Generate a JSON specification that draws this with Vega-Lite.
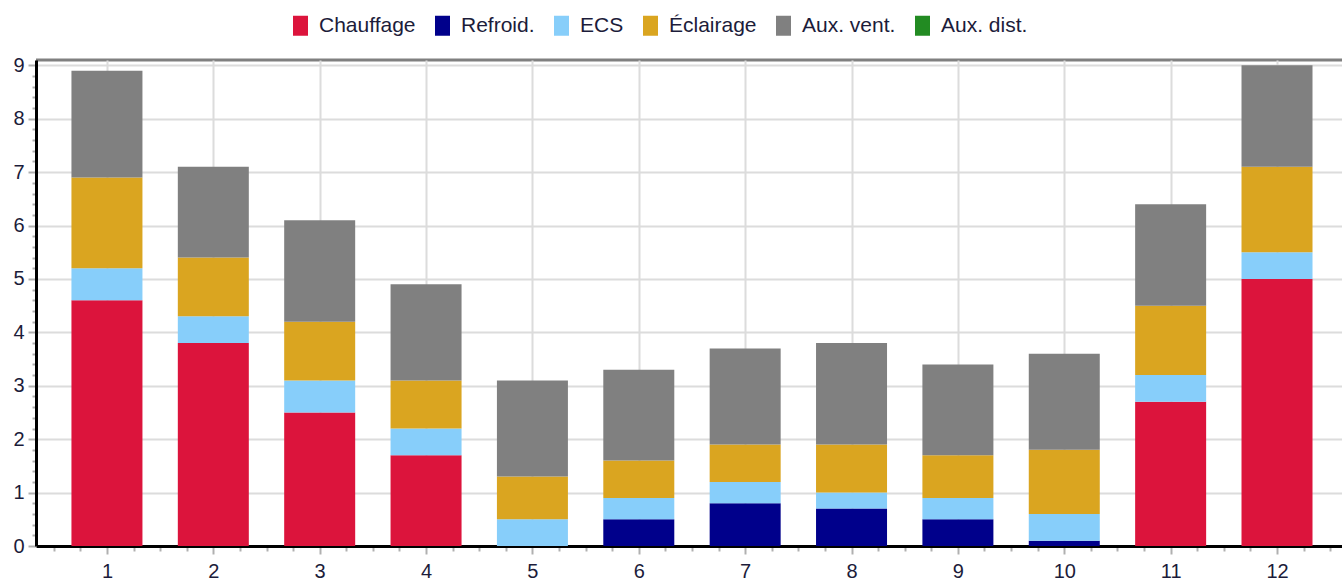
{
  "$schema": "https://vega.github.io/schema/vega-lite/v6.json",
  "autosize": {"type": "none"},
  "width": 1306,
  "height": 486,
  "padding": {"left": 36, "top": 60, "right": 0, "bottom": 37},
  "background": "white",
  "config": {
    "view": {"stroke": "#808080", "strokeWidth": 3, "strokeDash": [1306, 2400]},
    "font": "Liberation Sans"
  },
  "data": {
    "values": [
      {"mois": 1, "usage": "Chauffage", "valeur": 4.6},
      {"mois": 1, "usage": "ECS", "valeur": 0.6},
      {"mois": 1, "usage": "Éclairage", "valeur": 1.7},
      {"mois": 1, "usage": "Aux. vent.", "valeur": 2.0},
      {"mois": 2, "usage": "Chauffage", "valeur": 3.8},
      {"mois": 2, "usage": "ECS", "valeur": 0.5},
      {"mois": 2, "usage": "Éclairage", "valeur": 1.1},
      {"mois": 2, "usage": "Aux. vent.", "valeur": 1.7},
      {"mois": 3, "usage": "Chauffage", "valeur": 2.5},
      {"mois": 3, "usage": "ECS", "valeur": 0.6},
      {"mois": 3, "usage": "Éclairage", "valeur": 1.1},
      {"mois": 3, "usage": "Aux. vent.", "valeur": 1.9},
      {"mois": 4, "usage": "Chauffage", "valeur": 1.7},
      {"mois": 4, "usage": "ECS", "valeur": 0.5},
      {"mois": 4, "usage": "Éclairage", "valeur": 0.9},
      {"mois": 4, "usage": "Aux. vent.", "valeur": 1.8},
      {"mois": 5, "usage": "ECS", "valeur": 0.5},
      {"mois": 5, "usage": "Éclairage", "valeur": 0.8},
      {"mois": 5, "usage": "Aux. vent.", "valeur": 1.8},
      {"mois": 6, "usage": "Refroid.", "valeur": 0.5},
      {"mois": 6, "usage": "ECS", "valeur": 0.4},
      {"mois": 6, "usage": "Éclairage", "valeur": 0.7},
      {"mois": 6, "usage": "Aux. vent.", "valeur": 1.7},
      {"mois": 7, "usage": "Refroid.", "valeur": 0.8},
      {"mois": 7, "usage": "ECS", "valeur": 0.4},
      {"mois": 7, "usage": "Éclairage", "valeur": 0.7},
      {"mois": 7, "usage": "Aux. vent.", "valeur": 1.8},
      {"mois": 8, "usage": "Refroid.", "valeur": 0.7},
      {"mois": 8, "usage": "ECS", "valeur": 0.3},
      {"mois": 8, "usage": "Éclairage", "valeur": 0.9},
      {"mois": 8, "usage": "Aux. vent.", "valeur": 1.9},
      {"mois": 9, "usage": "Refroid.", "valeur": 0.5},
      {"mois": 9, "usage": "ECS", "valeur": 0.4},
      {"mois": 9, "usage": "Éclairage", "valeur": 0.8},
      {"mois": 9, "usage": "Aux. vent.", "valeur": 1.7},
      {"mois": 10, "usage": "Refroid.", "valeur": 0.1},
      {"mois": 10, "usage": "ECS", "valeur": 0.5},
      {"mois": 10, "usage": "Éclairage", "valeur": 1.2},
      {"mois": 10, "usage": "Aux. vent.", "valeur": 1.8},
      {"mois": 11, "usage": "Chauffage", "valeur": 2.7},
      {"mois": 11, "usage": "ECS", "valeur": 0.5},
      {"mois": 11, "usage": "Éclairage", "valeur": 1.3},
      {"mois": 11, "usage": "Aux. vent.", "valeur": 1.9},
      {"mois": 12, "usage": "Chauffage", "valeur": 5.0},
      {"mois": 12, "usage": "ECS", "valeur": 0.5},
      {"mois": 12, "usage": "Éclairage", "valeur": 1.6},
      {"mois": 12, "usage": "Aux. vent.", "valeur": 1.9}
    ]
  },
  "transform": [
    {"calculate": "indexof(['Chauffage','Refroid.','ECS','Éclairage','Aux. vent.','Aux. dist.'], datum.usage)", "as": "rang"}
  ],
  "mark": {"type": "bar", "size": 71},
  "encoding": {
    "x": {
      "field": "mois",
      "type": "quantitative",
      "scale": {"domain": [0.333, 12.611], "nice": false, "zero": false, "padding": 0},
      "axis": {
        "title": null,
        "values": [0.5,0.75,1,1.25,1.5,1.75,2,2.25,2.5,2.75,3,3.25,3.5,3.75,4,4.25,4.5,4.75,5,5.25,5.5,5.75,6,6.25,6.5,6.75,7,7.25,7.5,7.75,8,8.25,8.5,8.75,9,9.25,9.5,9.75,10,10.25,10.5,10.75,11,11.25,11.5,11.75,12,12.25,12.5],
        "labelExpr": "datum.value % 1 === 0 ? format(datum.value, 'd') : ''",
        "labelFontSize": 20,
        "labelColor": "#1c1c3a",
        "labelPadding": 7,
        "labelFlush": false,
        "labelOverlap": false,
        "domainColor": "#000000",
        "domainWidth": 3,
        "tickColor": "#b0b0b0",
        "tickWidth": 2,
        "tickSize": {"condition": {"test": "datum.value % 1 === 0", "value": 8}, "value": 5},
        "grid": true,
        "gridColor": "#dcdcdc",
        "gridWidth": 2,
        "gridOpacity": {"condition": {"test": "datum.value % 1 === 0", "value": 1}, "value": 0}
      }
    },
    "y": {
      "field": "valeur",
      "type": "quantitative",
      "aggregate": "sum",
      "stack": "zero",
      "scale": {"domain": [0, 9.1], "nice": false},
      "axis": {
        "title": null,
        "values": [0,0.2,0.4,0.6,0.8,1,1.2,1.4,1.6,1.8,2,2.2,2.4,2.6,2.8,3,3.2,3.4,3.6,3.8,4,4.2,4.4,4.6,4.8,5,5.2,5.4,5.6,5.8,6,6.2,6.4,6.6,6.8,7,7.2,7.4,7.6,7.8,8,8.2,8.4,8.6,8.8,9],
        "labelExpr": "abs(datum.value - round(datum.value)) < 0.001 ? format(datum.value, 'd') : ''",
        "labelFontSize": 20,
        "labelColor": "#1c1c3a",
        "labelPadding": 4,
        "labelOverlap": false,
        "domainColor": "#000000",
        "domainWidth": 3,
        "tickColor": "#b0b0b0",
        "tickWidth": 2,
        "tickSize": {"condition": {"test": "abs(datum.value - round(datum.value)) < 0.001", "value": 8}, "value": 4},
        "grid": true,
        "gridColor": "#dcdcdc",
        "gridWidth": 2,
        "gridOpacity": {"condition": {"test": "abs(datum.value - round(datum.value)) < 0.001", "value": 1}, "value": 0}
      }
    },
    "order": {"field": "rang", "type": "quantitative", "sort": "ascending"},
    "color": {
      "field": "usage",
      "type": "nominal",
      "sort": ["Chauffage", "Refroid.", "ECS", "Éclairage", "Aux. vent.", "Aux. dist."],
      "scale": {
        "domain": ["Chauffage", "Refroid.", "ECS", "Éclairage", "Aux. vent.", "Aux. dist."],
        "range": ["#dc143c", "#00008b", "#87cefa", "#daa520", "#808080", "#228b22"]
      },
      "legend": {
        "title": null,
        "orient": "none",
        "direction": "horizontal",
        "legendX": 254,
        "legendY": -45,
        "symbolType": "M-0.75,-1H0.75V1H-0.75Z",
        "symbolSize": 400,
        "symbolStrokeWidth": 0,
        "symbolOpacity": 1,
        "labelFontSize": 21,
        "labelColor": "#1c1c3a",
        "labelOffset": 8,
        "columnPadding": 16
      }
    }
  }
}
